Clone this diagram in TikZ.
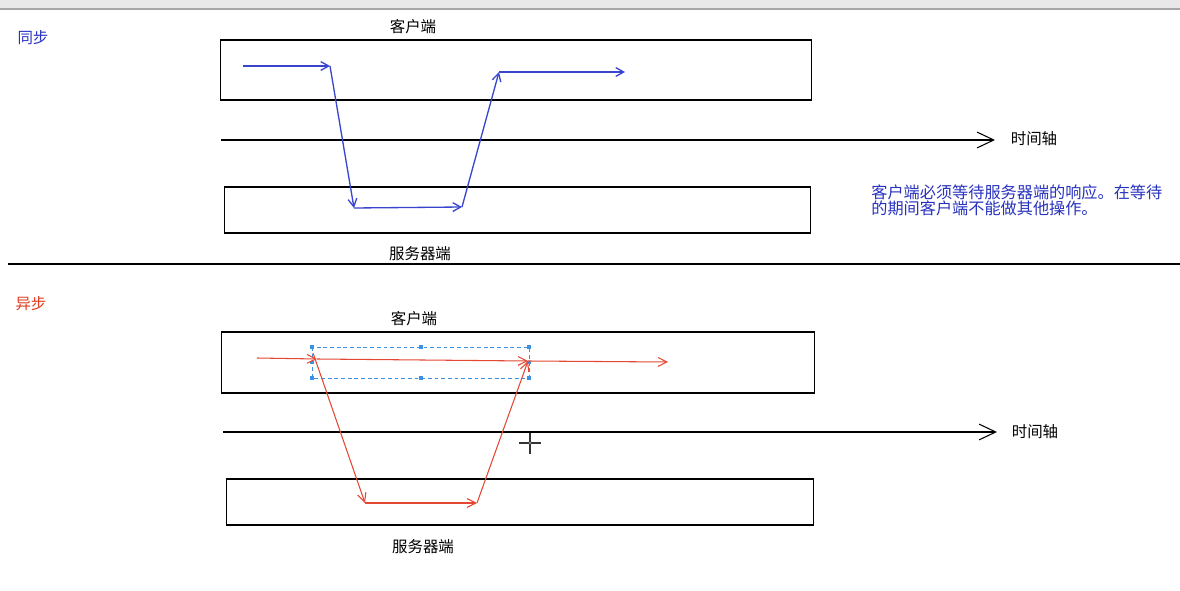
\documentclass[tikz,border=0pt]{standalone}
\usepackage{fontspec}
\setmainfont{Noto Sans CJK SC}
\usetikzlibrary{arrows.meta}
\definecolor{bluepath}{RGB}{55,70,205}
\definecolor{bluetext}{RGB}{40,50,190}
\definecolor{redpath}{RGB}{228,72,50}
\definecolor{redtext}{RGB}{225,60,30}
\definecolor{selblue}{RGB}{60,145,230}
\begin{document}
\begin{tikzpicture}[x=0.02cm,y=-0.02cm,
  lbl/.style={font=\fontsize{8.8}{10}\selectfont, inner sep=0pt},
  boxnode/.style={draw=black, line width=0.6pt, inner sep=0pt, outer sep=0pt},
  axisline/.style={draw=black, line width=0.6pt, -{Straight Barb[length=9.5pt,width=9pt,line width=0.6pt]}},
  bflow/.style={draw=bluepath, line width=0.75pt, -{Straight Barb[length=4.5pt,width=5pt]}},
  rflow/.style={draw=redpath, line width=0.6pt, -{Straight Barb[length=5pt,width=5pt]}},
  handle/.style={fill=selblue, draw=none, minimum size=2.2pt, inner sep=0pt},
]
\useasboundingbox (0,0) rectangle (1180,591);
\fill[white] (0,0) rectangle (1180,591);
% top band
\fill[gray!18] (0,0) rectangle (1180,8);
\draw[gray!70, line width=0.8pt] (0,9) -- (1180,9);

% ---------- synchronous ----------
\node[lbl, text=bluetext] (sync) at (33,38) {同步};
\node[lbl] (c1lbl) at (413,27) {客户端};
\node[boxnode, minimum width=11.84cm, minimum height=1.2cm] (client1) at (516,70) {};
\coordinate (ax1s) at (221,140);
\coordinate (ax1e) at (995,140);
\draw[axisline] (ax1s) -- (ax1e);
\node[lbl] (t1lbl) at (1034,139) {时间轴};
\node[boxnode, minimum width=11.74cm, minimum height=0.92cm] (server1) at (517.5,210) {};
\node[lbl] (s1lbl) at (420,254) {服务器端};

\coordinate (b1) at (243,66);
\coordinate (b2) at (330,66);
\coordinate (b3) at (354,208);
\coordinate (b4) at (462,207);
\coordinate (b5) at (499,72);
\coordinate (b6) at (625,72);
\draw[bflow] (b1) -- (b2);
\draw[bflow] (b2) -- (b3);
\draw[bflow] (b3) -- (b4);
\draw[bflow] (b4) -- (b5);
\draw[bflow] (b5) -- (b6);

\node[anchor=north west, inner sep=0pt, align=left, text=bluetext,
      font=\fontsize{9.2}{9.4}\selectfont] (note) at (871,184)
  {客户端必须等待服务器端的响应。在等待\\的期间客户端不能做其他操作。};

% separator
\coordinate (sepL) at (8,264);
\coordinate (sepR) at (1180,264);
\draw[black, line width=0.6pt] (sepL) -- (sepR);

% ---------- asynchronous ----------
\node[lbl, text=redtext] (async) at (31,304) {异步};
\node[lbl] (c2lbl) at (414,319) {客户端};
\node[boxnode, minimum width=11.88cm, minimum height=1.22cm] (client2) at (518,362.5) {};
\coordinate (ax2s) at (223,432);
\coordinate (ax2e) at (997,432);
\draw[axisline] (ax2s) -- (ax2e);
\node[lbl] (t2lbl) at (1035,432) {时间轴};
\node[boxnode, minimum width=11.76cm, minimum height=0.92cm] (server2) at (520,502) {};
\node[lbl] (s2lbl) at (423,547) {服务器端};

% selection rectangle
\draw[selblue, line width=0.5pt, dash pattern=on 2.2pt off 1.6pt] (312,347) rectangle (529,378);
\foreach \hx/\hy [count=\i] in {312/347,421/347,529/347,312/378,421/378,529/378,312/362.5,529/362.5}
  \node[handle] (h\i) at (\hx,\hy) {};

\coordinate (r1) at (257,358);
\coordinate (r2) at (317,359);
\coordinate (r2b) at (313,353);
\coordinate (r3) at (365,503);
\coordinate (r4) at (477,503);
\coordinate (r5) at (528,361);
\coordinate (r6) at (668,362);
\draw[rflow] (r1) -- (r2);
\draw[rflow] (r2b) -- (r3);
\draw[rflow] (r3) -- (r4);
\draw[rflow] (r4) -- (r5);
\draw[rflow] (r2) -- (r5);
\draw[rflow] (r5) -- (r6);

% crosshair cursor
\draw[black!80, line width=0.8pt] (530,433) -- (530,454);
\draw[black!80, line width=0.8pt] (519,443) -- (541,443);
\draw[black!80, fill=gray!40, line width=0.5pt] (530,443) circle (1.7);
\end{tikzpicture}
\end{document}
